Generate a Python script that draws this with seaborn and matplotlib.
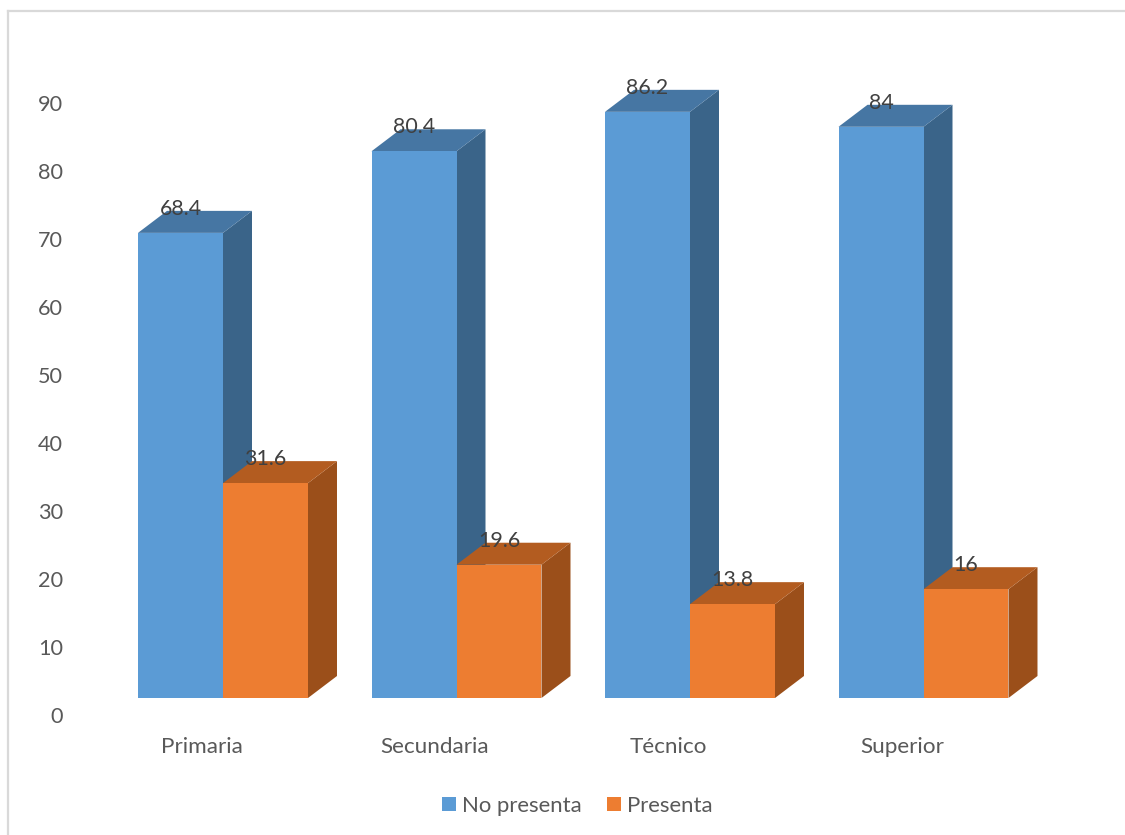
import matplotlib
matplotlib.use("Agg")
import matplotlib.pyplot as plt
from matplotlib.lines import Line2D
from matplotlib.patches import Polygon
from matplotlib.transforms import ScaledTranslation
import seaborn as sns
import pandas as pd

categories = ["Primaria", "Secundaria", "Técnico", "Superior"]
no_presenta = [68.4, 80.4, 86.2, 84]
presenta = [31.6, 19.6, 13.8, 16]
series_names = ["No presenta", "Presenta"]
yticks = [0, 10, 20, 30, 40, 50, 60, 70, 80, 90]

W, H, DPI = 1125, 835, 100
sns.set_theme(style="white")
plt.rcParams["font.family"] = ["Lato", "DejaVu Sans"]

df = pd.DataFrame({
    "cat": categories * 2,
    "serie": [series_names[0]] * 4 + [series_names[1]] * 4,
    "val": no_presenta + presenta,
})

colors = {"No presenta": "#5B9BD5", "Presenta": "#ED7D31"}
side = {"No presenta": "#3A6489", "Presenta": "#9B4F1A"}
top = {"No presenta": "#4676A3", "Presenta": "#B35C20"}

fig = plt.figure(figsize=(W / DPI, H / DPI), dpi=DPI, facecolor="white")
L, R, T, B = 106.25, 1040.25, 86, 698
ax = fig.add_axes([L / W, 1 - B / H, (R - L) / W, (B - T) / H])
sns.barplot(data=df, x="cat", y="val", hue="serie", hue_order=series_names,
            palette=colors, width=0.728, gap=0, saturation=1, ax=ax,
            errorbar=None, zorder=3, legend=False)
ax.set_xlim(-0.5, 3.5)
ax.set_ylim(0, 90)
ax.set_xlabel("")
ax.set_ylabel("")
for s in ax.spines.values():
    s.set_visible(False)

# 3D extrusion, depth in pixels converted to data units
px_x = (R - L) / 4
px_y = (B - T) / 90
dx, dy = 29 / px_x, 22 / px_y
for cont, name, z in zip(ax.containers, series_names, (1.0, 2.0)):
    for bar in cont:
        bar.set_linewidth(0)
        bar.set_zorder(z + 0.5)
        x0, y0, w, h = bar.get_x(), bar.get_y(), bar.get_width(), bar.get_height()
        x1, y1 = x0 + w, y0 + h
        ax.add_patch(Polygon([(x1, y0), (x1 + dx, y0 + dy), (x1 + dx, y1 + dy), (x1, y1)],
                             closed=True, fc=side[name], ec="none", zorder=z, clip_on=False))
        ax.add_patch(Polygon([(x0, y1), (x0 + dx, y1 + dy), (x1 + dx, y1 + dy), (x1, y1)],
                             closed=True, fc=top[name], ec="none", zorder=z, clip_on=False))
        ax.annotate(f"{h:g}", (x0 + w / 2, y1), xytext=(0, 24 * 72 / DPI),
                    textcoords="offset points", ha="center", va="center",
                    fontsize=15.4, color="#404040", zorder=6, annotation_clip=False)

# Tick labels
ax.tick_params(axis="both", length=0)
ax.set_yticks(yticks)
ax.set_yticklabels([str(v) for v in yticks], fontsize=15.6, color="#595959")
ax.tick_params(axis="y", pad=43 * 72 / DPI)
ax.tick_params(axis="x", pad=39 * 72 / DPI)
ax.set_xticks(range(4))
ax.set_xticklabels(categories, fontsize=16.2, color="#595959")
ax.grid(False)
shift_y = ScaledTranslation(0, -19 / DPI, fig.dpi_scale_trans)
for lab in ax.get_yticklabels():
    lab.set_transform(lab.get_transform() + shift_y)
    lab.set_va("center")
shift_x = ScaledTranslation(-21.5 / DPI, 0, fig.dpi_scale_trans)
for lab in ax.get_xticklabels():
    lab.set_transform(lab.get_transform() + shift_x)

# Legend
handles = [plt.Rectangle((0, 0), 1, 1, fc=colors[n], ec="none") for n in series_names]
leg = fig.legend(handles, series_names, loc="center", bbox_to_anchor=(577.5 / W, 1 - 805.5 / H),
                 ncol=2, frameon=False, fontsize=15.9, handlelength=0.63, handleheight=0.63,
                 handletextpad=0.27, columnspacing=1.13, labelcolor="#595959")

# Chart-area border: left and top only
bc = "#D9D9D9"
fig.add_artist(Line2D([8 / W, 8 / W], [0, 1 - 11 / H], color=bc, lw=1.6, solid_capstyle="projecting"))
fig.add_artist(Line2D([8 / W, 1], [1 - 11 / H, 1 - 11 / H], color=bc, lw=1.6, solid_capstyle="projecting"))

fig.savefig("out.png", dpi=DPI, facecolor="white")
